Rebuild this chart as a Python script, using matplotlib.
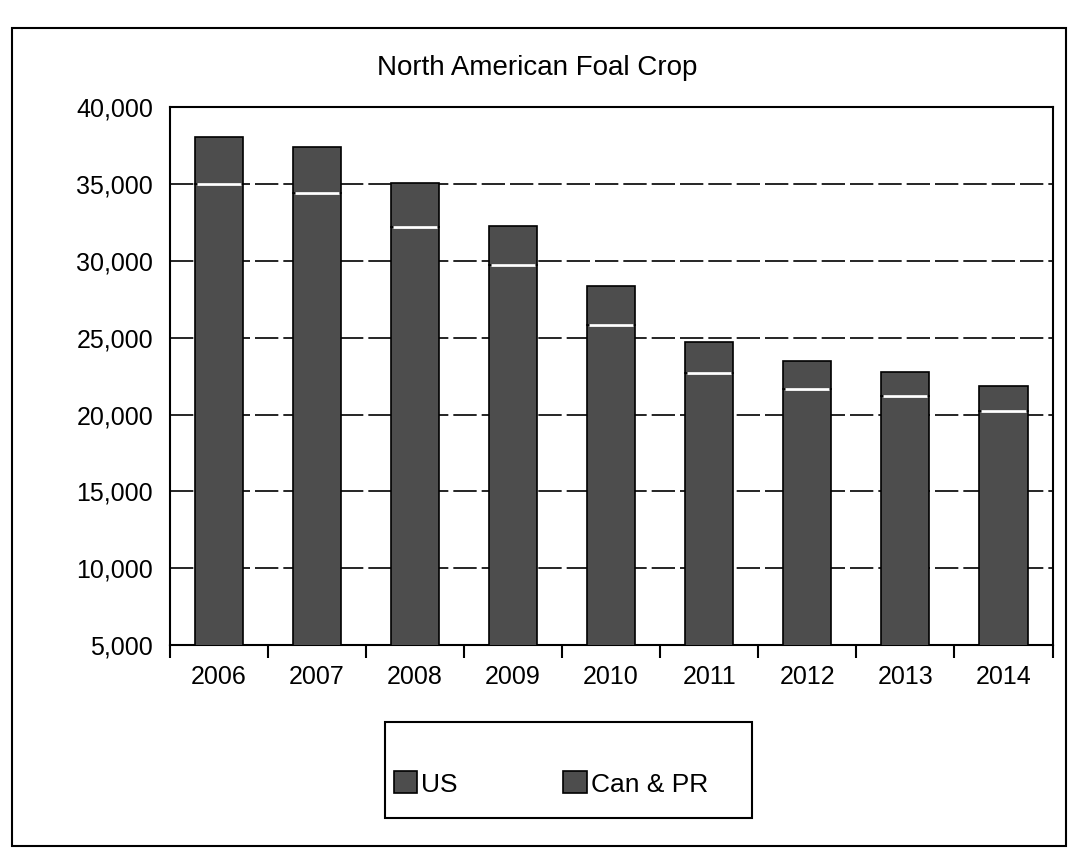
import matplotlib.pyplot as plt
from matplotlib.patches import Rectangle
from matplotlib.ticker import FixedLocator, FuncFormatter

years = ["2006", "2007", "2008", "2009", "2010", "2011", "2012", "2013", "2014"]
us = [35000, 34400, 32200, 29750, 25850, 22700, 21650, 21200, 20200]
can_pr = [3050, 3000, 2850, 2500, 2500, 2050, 1850, 1550, 1650]

BAR_COLOR = "#4d4d4d"

plt.rcParams["font.family"] = ["Liberation Sans", "DejaVu Sans"]

fig = plt.figure(figsize=(10.74, 8.51), dpi=100)
ax = fig.add_axes([0.158, 0.242, 0.822, 0.632])

x = list(range(len(years)))
w = 0.49
ax.bar(x, us, w, color=BAR_COLOR, edgecolor="black", linewidth=1.2, zorder=3, label="US")
ax.bar(x, can_pr, w, bottom=us, color=BAR_COLOR, edgecolor="black", linewidth=1.2,
       zorder=3, label="Can & PR")
# white seam between the two stacked parts
ax.hlines(us, [i - w / 2 + 0.02 for i in x], [i + w / 2 - 0.02 for i in x],
          color="white", linewidth=2, zorder=4)

ax.set_ylim(5000, 40000)
ax.set_xlim(-0.5, len(years) - 0.5)
ax.set_yticks(range(5000, 40001, 5000))
ax.yaxis.set_major_formatter(FuncFormatter(lambda v, p: f"{int(v):,}"))
ax.tick_params(axis="y", length=0, pad=12, labelsize=18)
ax.set_xticks(x)
ax.set_xticklabels(years)
ax.tick_params(axis="x", which="major", length=0, pad=14, labelsize=18)
ax.xaxis.set_minor_locator(FixedLocator([i + 0.5 for i in range(-1, len(years))]))
ax.tick_params(axis="x", which="minor", length=9, width=1.5, direction="out")

ax.grid(axis="y", color="black", linewidth=1.2, linestyle=(0, (14, 3)), zorder=0)
for s in ax.spines.values():
    s.set_linewidth(1.5)
    s.set_color("black")

fig.text(0.5, 1 - 68 / 851, "North American Foal Crop", ha="center", va="center", fontsize=20)

# outer chart frame
fig.patches.append(Rectangle((12 / 1074, 5 / 851), 1054 / 1074, 818 / 851,
                             transform=fig.transFigure, fill=False,
                             edgecolor="black", linewidth=1.5))
# legend box
fig.patches.append(Rectangle((385 / 1074, 1 - 818 / 851), 367 / 1074, 96 / 851,
                             transform=fig.transFigure, fill=False,
                             edgecolor="black", linewidth=1.5))
handles, labels = ax.get_legend_handles_labels()
fig.legend(handles, labels, ncol=2, frameon=False, fontsize=19,
           loc="center left", bbox_to_anchor=(383 / 1074, 1 - 784 / 851),
           handlelength=0.9, handleheight=0.9, handletextpad=0.15,
           columnspacing=4.0, borderaxespad=0)

fig.savefig("out.png", dpi=100)
